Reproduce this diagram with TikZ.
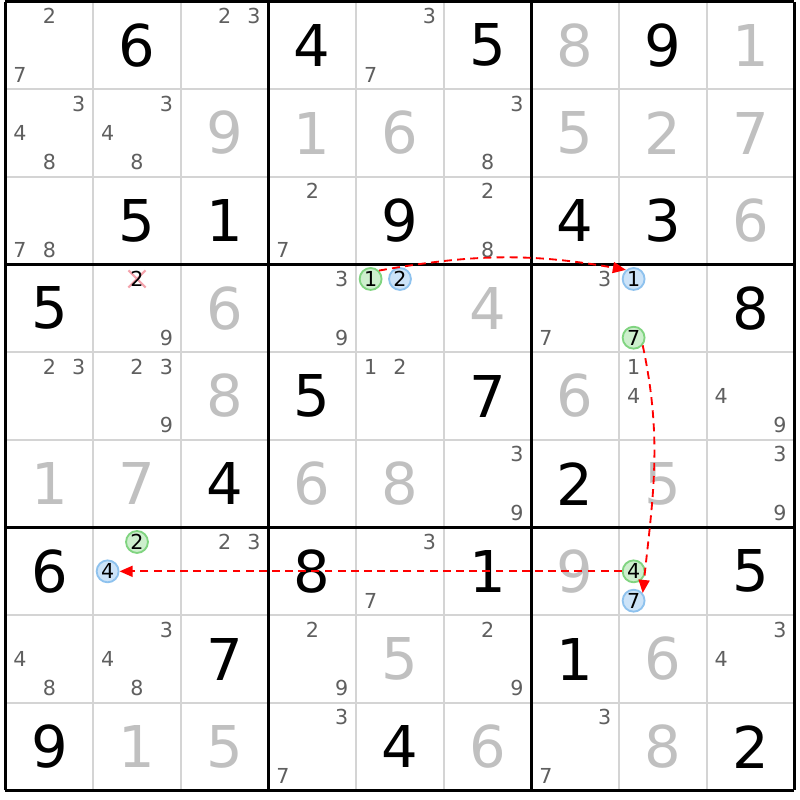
\documentclass[tikz,border=0pt]{standalone}
\usepackage{fontspec}
\setmainfont{DejaVu Sans}
\usepackage{tikz}
\usetikzlibrary{arrows.meta,shapes.misc}
\definecolor{candgrey}{HTML}{5F5F5F}
\definecolor{solvedgrey}{HTML}{C0C0C0}
\definecolor{gridgrey}{HTML}{D4D4D4}
\definecolor{greenfill}{HTML}{CDEFCD}
\definecolor{greenline}{HTML}{80D480}
\definecolor{bluefill}{HTML}{CCE3F8}
\definecolor{blueline}{HTML}{8EC2EE}
\definecolor{crosspink}{HTML}{F4A3AC}
% position of candidate #3 in cell (row #1, column #2)
\newcommand{\candpos}[3]{({#2-0.5+(mod(#3-1,3)-1)*0.335},{9.5-#1-(int((#3-1)/3)-1)*0.335})}
\tikzset{
    %Define standard arrow tip
    >={Triangle[length=1.5mm,width=1.25mm]},
    %Define style for digits
    given/.style={
           inner sep=0pt,
           font=\fontsize{18.7}{20}\selectfont,
           text=black},
    solved/.style={
           given,
           text=solvedgrey},
    cand/.style={
           inner sep=0pt,
           font=\fontsize{6.7}{7}\selectfont,
           text=candgrey},
    % Define style for marked candidates
    greencand/.style={
           cand,
           circle,
           draw=greenline,
           fill=greenfill,
           line width=0.6pt,
           minimum size=0.25cm,
           text=black},
    bluecand/.style={
           greencand,
           draw=blueline,
           fill=bluefill},
    crossed/.style={
           cross out,
           draw=crosspink,
           line width=0.7pt,
           inner sep=0pt,
           minimum size=0.17cm},
    % Define grid styles
    thinline/.style={
           draw=gridgrey,
           line width=0.65pt},
    thickline/.style={
           draw=black,
           line width=0.97pt},
    % Define arrow style
    link/.style={
           ->,
           draw=red,
           line width=0.6pt,
           dash pattern=on 0.09cm off 0.06cm}
}
\begin{document}
\begin{tikzpicture}
    \fill[white] (-0.0627,-0.1084) rectangle (9.0627,9.0171);
    \useasboundingbox (-0.0627,-0.1084) rectangle (9.0627,9.0171);

    % grid
    \foreach \i in {1,2,4,5,7,8} {
        \draw[thinline] (\i,0) -- (\i,9);
        \draw[thinline] (0,\i) -- (9,\i);
    }
    \foreach \i in {0,3,6,9} {
        \draw[thickline] (\i,0) -- (\i,9);
        \draw[thickline] (0,\i) -- (9,\i);
    }

    % givens
    \foreach \row/\col/\dig in {1/2/6, 1/4/4, 1/6/5, 1/8/9, 3/2/5, 3/3/1, 3/5/9, 3/7/4, 3/8/3,
        4/1/5, 4/9/8, 5/4/5, 5/6/7, 6/3/4, 6/7/2, 7/1/6, 7/4/8, 7/6/1, 7/9/5,
        8/3/7, 8/7/1, 9/1/9, 9/5/4, 9/9/2}
        \node[given] (v\row\col) at ({\col-0.5},{9.5-\row}) {\dig};

    % solved cells
    \foreach \row/\col/\dig in {1/7/8, 1/9/1, 2/3/9, 2/4/1, 2/5/6, 2/7/5, 2/8/2, 2/9/7, 3/9/6,
        4/3/6, 4/6/4, 5/3/8, 5/7/6, 6/1/1, 6/2/7, 6/4/6, 6/5/8, 6/8/5,
        7/7/9, 8/5/5, 8/8/6, 9/2/1, 9/3/5, 9/6/6, 9/8/8}
        \node[solved] (v\row\col) at ({\col-0.5},{9.5-\row}) {\dig};

    % candidates
    \foreach \row/\col/\dig in {1/1/2, 1/1/7, 1/3/2, 1/3/3, 1/5/3, 1/5/7,
        2/1/3, 2/1/4, 2/1/8, 2/2/3, 2/2/4, 2/2/8, 2/6/3, 2/6/8,
        3/1/7, 3/1/8, 3/4/2, 3/4/7, 3/6/2, 3/6/8,
        4/2/9, 4/4/3, 4/4/9, 4/7/3, 4/7/7,
        5/1/2, 5/1/3, 5/2/2, 5/2/3, 5/2/9, 5/5/1, 5/5/2, 5/8/1, 5/8/4, 5/9/4, 5/9/9,
        6/6/3, 6/6/9, 6/9/3, 6/9/9,
        7/3/2, 7/3/3, 7/5/3, 7/5/7,
        8/1/4, 8/1/8, 8/2/3, 8/2/4, 8/2/8, 8/4/2, 8/4/9, 8/6/2, 8/6/9, 8/9/3, 8/9/4,
        9/4/3, 9/4/7, 9/7/3, 9/7/7}
        \node[cand] (k\row\col\dig) at \candpos{\row}{\col}{\dig} {\dig};

    % removed candidate
    \node[crossed] (x422) at \candpos{4}{2}{2} {};
    \node[cand, text=black] (k422) at \candpos{4}{2}{2} {2};

    % marked candidates
    \node[greencand] (k451) at \candpos{4}{5}{1} {1};
    \node[bluecand] (k452) at \candpos{4}{5}{2} {2};
    \node[bluecand] (k481) at \candpos{4}{8}{1} {1};
    \node[greencand] (k487) at \candpos{4}{8}{7} {7};
    \node[greencand] (k722) at \candpos{7}{2}{2} {2};
    \node[bluecand] (k724) at \candpos{7}{2}{4} {4};
    \node[greencand] (k784) at \candpos{7}{8}{4} {4};
    \node[bluecand] (k787) at \candpos{7}{8}{7} {7};

    % links
    \draw[link] (k451.45) to[out=10,in=170] (k481.130);
    \draw[link] (k487.-40) to[out=-78,in=84] (k787.40);
    \draw[link] (k784) -- (k724);
\end{tikzpicture}
\end{document}
